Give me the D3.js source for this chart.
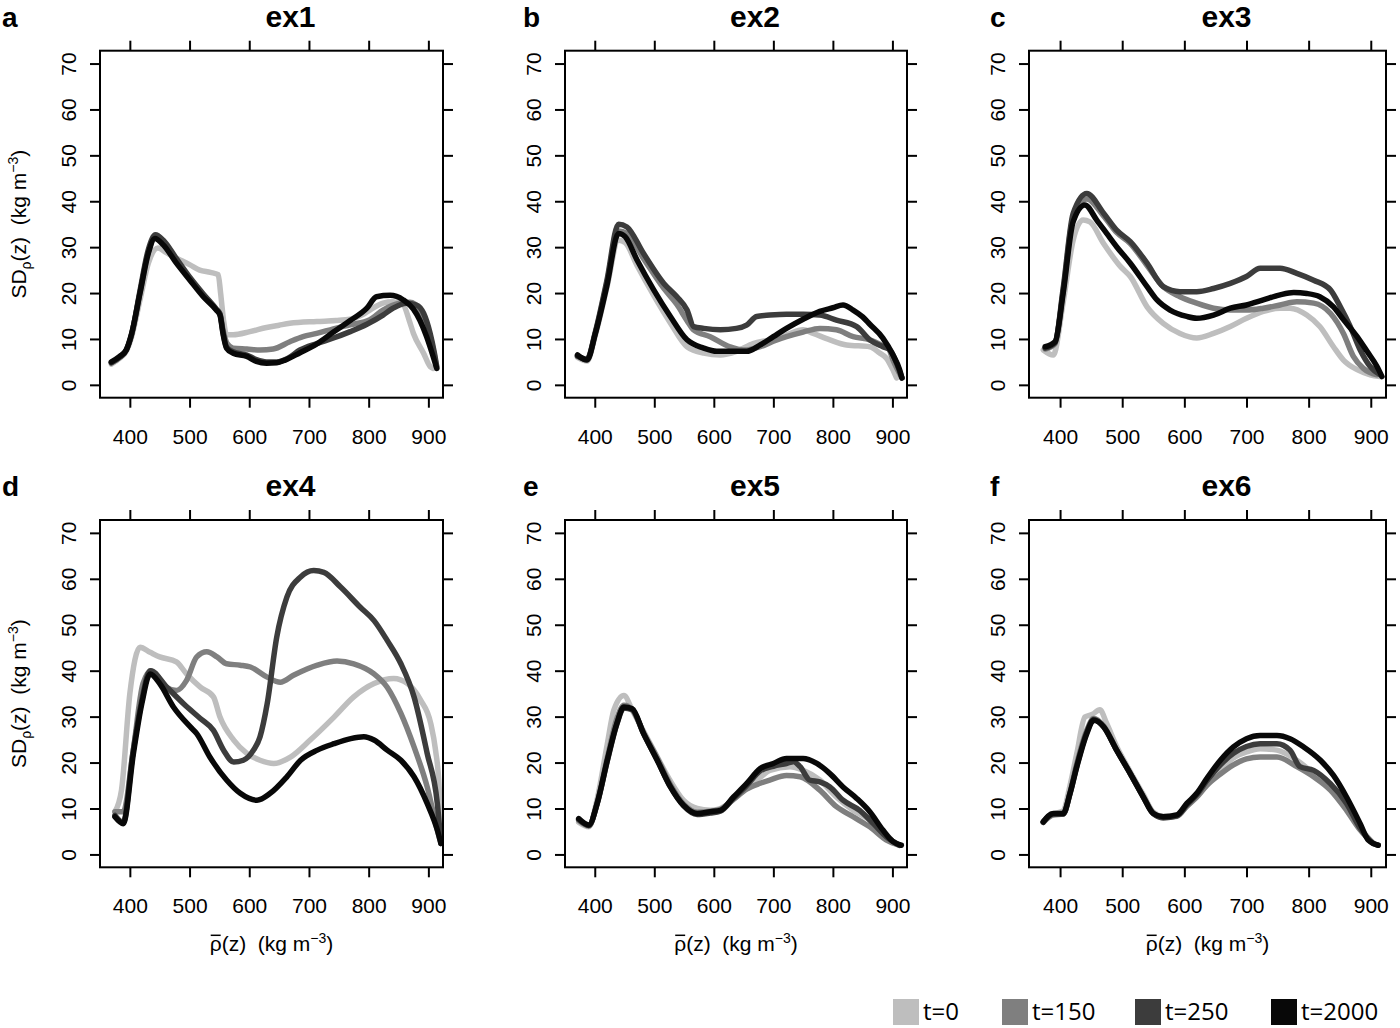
<!DOCTYPE html>
<html>
<head>
<meta charset="utf-8">
<script src="https://cdn.jsdelivr.net/npm/d3@7"></script>
<style>
body{margin:0;background:#fff;}
text{font-family:"Liberation Sans",Arial,Helvetica,sans-serif;fill:#000;}
</style>
</head>
<body>
<div id="chart"></div>
<script>

// Data: [mean density, SD]

var series = ["t=0","t=150","t=250","t=2000"];
var colors = ["#bebebe","#7f7f7f","#3c3c3c","#080808"];
var xTicks = [400,500,600,700,800,900];
var yTicks = [0,10,20,30,40,50,60,70];
var panelNames = ["ex1","ex2","ex3","ex4","ex5","ex6"];
var panelLetters = ["a","b","c","d","e","f"];

var ex1_t0 = [[369,4.5],[383,5.8],[394,7.3],[403,10.5],[417,18.5],[431,26.5],[447,29.8],[461,28.8],[472,28],[484,27.2],[500,26.2],[517,25],[535,24.5],[548,24],[552,20],[557,14],[562,10.9],[573,10.9],[601,11.6],[629,12.5],[650,13],[668,13.4],[713,13.8],[745,14],[769,14.3],[790,15.3],[802,16.3],[824,17.8],[841,18.1],[858,17.4],[868,14],[875,11.2],[892,6.9],[903,4],[908,3.6]];
var ex1_t150 = [[369,4.8],[383,6],[394,7.6],[403,11],[417,20],[431,29],[443,32.2],[456,31],[478,27],[500,23.2],[523,19.5],[545,16.3],[551,15.3],[556,12],[563,9],[573,8],[596,7.8],[618,7.6],[640,7.8],[668,9.4],[690,10.5],[713,11.2],[741,12.2],[769,13.1],[802,14.2],[824,16.3],[852,17.8],[869,18],[886,16.3],[897,13],[903,10.5],[910,6.5],[914,3.6]];
var ex1_t250 = [[369,4.8],[383,6],[394,7.6],[403,11],[417,20.5],[431,29.5],[443,32.7],[456,31.5],[478,27.5],[500,23.5],[523,19.8],[545,16.5],[551,15.5],[556,11.5],[562,8.2],[573,7.2],[596,6.5],[612,5.5],[629,5],[646,5],[665,5.8],[685,7.6],[713,9],[741,10.2],[769,11.6],[797,13.2],[824,15.2],[841,16.7],[863,17.8],[880,17.4],[892,15.6],[903,11.2],[910,7],[914,4]];
var ex1_t2000 = [[369,5],[383,6.2],[394,7.6],[403,11.2],[417,20],[431,28.7],[442,31.9],[456,30.5],[478,26.5],[500,22.9],[523,19.2],[545,16.3],[551,15.2],[556,11.2],[562,8],[573,6.9],[596,6.2],[612,5.1],[629,4.7],[646,4.8],[660,5.4],[685,7],[713,8.9],[741,11.5],[769,14],[797,16.7],[813,19.2],[836,19.5],[858,18.5],[875,16.5],[886,14],[897,10.5],[906,7],[914,3.6]];

var ex2_t0 = [[371,6],[387,5.2],[401,10.8],[420,21],[440,31.5],[451,31],[471,26],[499,19.5],[527,13.5],[555,8.3],[583,6.9],[611,6.5],[638,7.3],[666,9],[694,9.8],[722,10.9],[750,12],[767,11.2],[795,9.8],[823,8.7],[862,8.3],[878,7],[890,5.8],[900,3.5],[907,1.5]];
var ex2_t150 = [[371,6.2],[387,5.5],[401,11.3],[420,22],[440,33.5],[454,33],[482,27.5],[516,21],[538,17.5],[555,14],[566,12],[594,10.5],[627,8.3],[650,7.6],[678,8.3],[700,9.5],[722,10.5],[750,11.5],[778,12.3],[806,12],[834,10.5],[862,9.8],[884,8.5],[894,7.8],[901,5.4],[916,1.5]];
var ex2_t250 = [[371,6.3],[387,5.6],[401,11.5],[420,22.5],[440,35],[454,34.4],[482,28.6],[516,22.1],[538,19.2],[555,16.3],[566,12.7],[583,12.3],[611,12],[638,12.3],[655,13],[672,14.9],[694,15.2],[722,15.4],[750,15.4],[778,15.2],[806,14.1],[840,12.7],[862,9.8],[884,8.3],[896,7.6],[907,4.7],[916,1.5]];
var ex2_t2000 = [[371,6.5],[387,5.4],[401,11.2],[420,21.4],[440,33],[451,32.3],[471,27.2],[499,20.7],[527,14.9],[555,9.8],[583,8],[605,7.3],[638,7.3],[655,7.3],[678,8.7],[700,10.5],[722,12.3],[750,14.3],[778,16],[800,16.8],[817,17.4],[834,16.3],[850,14.8],[862,13.2],[884,10.2],[901,6.5],[912,3.3],[916,1.5]];

var ex3_t0 = [[373,7.6],[389,6.5],[405,18],[421,31.5],[437,35.9],[448,35.5],[470,30.8],[497,25.8],[513,23.6],[540,17],[566,13.4],[593,11.2],[620,10.2],[647,11.2],[674,12.7],[700,14.5],[727,16],[754,16.7],[770,16.7],[797,15.2],[818,12.7],[840,8.3],[856,5.4],[878,3.3],[899,2.2],[915,1.8]];
var ex3_t150 = [[376,7.8],[392,9],[405,20.5],[421,36.5],[443,40.5],[470,36.8],[491,33.2],[513,30.8],[540,26],[566,21.4],[593,19.2],[620,17.8],[647,16.7],[674,16.3],[700,16.3],[727,16.7],[754,17.4],[781,18.1],[808,17.8],[835,15.6],[856,11.2],[872,6.2],[888,3.6],[910,2.2]];
var ex3_t250 = [[376,8],[392,9.2],[405,21],[421,37.3],[443,41.7],[470,37.4],[491,33.7],[513,31.2],[540,26.5],[566,21.4],[593,20.3],[620,20.3],[647,21],[674,22.1],[700,23.6],[722,25.4],[754,25.4],[781,24.3],[808,22.8],[835,20.7],[851,17],[867,12.7],[883,7.6],[899,4],[915,2.2]];
var ex3_t2000 = [[376,8.3],[392,9.4],[405,20],[421,35.5],[440,39.2],[459,35.9],[475,33],[491,30.1],[513,26.5],[540,21.4],[556,18.5],[577,16.3],[604,14.9],[620,14.5],[647,15.2],[674,16.7],[700,17.4],[727,18.5],[754,19.6],[776,20.1],[797,19.9],[818,19.2],[840,17],[856,14.2],[878,10.5],[894,7.3],[910,4],[918,1.8]];

var ex4_t0 = [[375,9.3],[386,14],[400,35],[417,45.1],[434,44],[450,43],[478,41.9],[495,39.3],[518,36.4],[540,34.3],[551,29.9],[574,24.9],[596,22],[618,20.5],[641,19.8],[669,21.2],[702,24.9],[742,29.9],[775,34.3],[809,37.2],[842,38.3],[865,37.2],[887,33.6],[904,28.5],[912,22.7],[918,14.7],[921,2.4]];
var ex4_t150 = [[375,9.3],[389,9.3],[405,22],[422,37.2],[436,40],[461,36.4],[478,35.7],[495,37.9],[512,43],[529,44.1],[546,43],[562,41.5],[585,41.2],[602,40.8],[630,38.6],[652,37.5],[674,39],[714,41.2],[747,42.1],[775,41.5],[809,39.3],[831,36.4],[854,30.7],[876,23.4],[898,14.7],[915,5.3],[921,2.4]];
var ex4_t250 = [[375,8.5],[389,7],[405,22],[420,33.5],[434,40],[462,36.4],[490,32.8],[518,29.6],[540,27],[557,22.7],[574,20.1],[590,20.5],[607,22.7],[618,25.6],[630,32.8],[646,47.3],[663,56],[686,60.4],[708,61.8],[725,61.4],[753,58.2],[786,53.8],[809,50.9],[831,46.6],[854,41.5],[876,34.3],[898,22],[915,11.1],[921,2.4]];
var ex4_t2000 = [[375,8.2],[389,6.7],[406,22],[420,32.8],[434,39.3],[450,37.2],[473,32.1],[501,27.8],[512,26.3],[534,21.2],[562,16.2],[585,13.3],[613,11.8],[635,13.3],[663,16.9],[686,20.5],[714,22.7],[742,24.1],[770,25.2],[792,25.6],[809,24.9],[831,22.7],[854,20.5],[876,16.9],[898,11.1],[915,5.3],[921,2.4]];

var ex5_t0 = [[373,7],[390,6],[404,12],[421,24],[432,31.4],[449,34.6],[463,31.4],[482,26.8],[505,21.2],[527,16],[549,11.8],[572,10],[594,9.6],[611,10],[633,12],[655,14.5],[678,16.8],[694,18.3],[728,19.1],[750,18.3],[778,16.2],[806,12.5],[834,9.6],[862,7.5],[890,3.8],[912,2]];
var ex5_t150 = [[373,7.4],[390,6.2],[404,11.2],[421,21],[437,29.5],[449,32.5],[463,31.5],[482,26.5],[505,21],[527,15.2],[549,11],[572,9.2],[594,9.4],[611,9.8],[633,12],[655,14.2],[678,15.5],[694,16.2],[722,17.2],[745,16.9],[778,14],[806,10.4],[834,8.2],[862,6],[890,3.1],[912,2]];
var ex5_t250 = [[373,7.6],[390,6.3],[404,11],[421,20.3],[437,28.3],[449,31.9],[463,31.5],[482,26.3],[505,20.5],[527,14.8],[549,10.6],[572,8.7],[594,9],[611,9.4],[633,12.2],[655,15],[678,18.2],[700,19.2],[722,19.8],[734,20.2],[745,19.1],[761,16.2],[778,15.8],[795,14.7],[817,11.8],[845,9.6],[868,6.7],[890,3.8],[912,2]];
var ex5_t2000 = [[373,7.8],[390,6.4],[404,11.1],[421,20.5],[437,28.5],[449,32.1],[463,31.7],[482,26.3],[505,20.5],[527,14.7],[549,10.7],[572,8.9],[594,9.3],[611,9.6],[633,12.5],[655,15.4],[678,18.7],[700,19.8],[722,20.9],[750,20.9],[773,19.8],[795,17.6],[817,14.7],[840,12.2],[862,9.3],[884,5.3],[901,2.8],[915,2]];

var ex6_t0 = [[373,7.2],[389,8.8],[405,9.5],[416,15],[427,22],[440,29.9],[452,30.5],[464,31.5],[475,28.5],[491,23.5],[513,18],[534,13],[550,9.2],[566,8.3],[588,8.6],[604,10.5],[620,12.8],[636,15.5],[658,18.5],[679,21],[700,22.3],[722,23],[749,22.7],[781,20.5],[808,17.6],[835,14.2],[861,10.2],[883,5.8],[904,2.4]];
var ex6_t150 = [[373,7],[389,8.6],[405,8.8],[416,13.5],[427,19.8],[443,27],[454,29.6],[470,28],[491,22.8],[513,17.6],[534,12.6],[550,9],[566,8],[588,8.3],[604,10.5],[620,12.5],[636,15],[658,17.5],[679,19.5],[700,20.8],[722,21.2],[749,21.2],[781,19.1],[808,16.9],[835,14],[861,9.6],[883,5.3],[904,2.4]];
var ex6_t250 = [[373,7],[389,8.8],[405,8.8],[416,13.2],[427,19.3],[443,26.6],[454,29.4],[470,27.8],[491,22.7],[513,17.6],[534,12.5],[550,8.9],[566,8],[588,8.4],[604,10.8],[620,13],[636,16],[658,19.5],[679,22],[700,23.5],[722,24.1],[749,24.1],[770,22.7],[786,19.1],[808,18.3],[835,15.4],[861,11.1],[883,5.7],[904,2.4],[912,2]];
var ex6_t2000 = [[373,7.1],[389,8.9],[405,8.9],[416,13.3],[427,19.1],[443,26.3],[454,29.2],[470,27.8],[491,22.7],[513,17.6],[534,12.5],[550,8.9],[566,8.2],[588,8.6],[604,11.1],[620,13.3],[636,16.5],[658,20.5],[679,23.4],[700,25.2],[722,25.9],[749,25.9],[770,25.2],[792,23.4],[819,20.5],[840,17.2],[861,12.5],[883,6.7],[896,3.1],[912,2]];

var panelData = [
	[ex1_t0,ex1_t150,ex1_t250,ex1_t2000],
	[ex2_t0,ex2_t150,ex2_t250,ex2_t2000],
	[ex3_t0,ex3_t150,ex3_t250,ex3_t2000],
	[ex4_t0,ex4_t150,ex4_t250,ex4_t2000],
	[ex5_t0,ex5_t150,ex5_t250,ex5_t2000],
	[ex6_t0,ex6_t150,ex6_t250,ex6_t2000]
];

// Layout

var W = 1400, H = 1028;
var colX = [[100,443],[565,907],[1029,1386]];
var rowY = [[50.7,397.7],[520,867.3]];
var letterX = [2,523,990];
var xDom = [350,924.5], yDom = [-2.8,72.8];
var legX = [893,1002,1135,1271];
var sp2 = "\u00a0\u00a0";

var svg = d3.select("#chart").append("svg")
	.attr("width",W).attr("height",H);

svg.append("rect").attr("width",W).attr("height",H).attr("fill","#fff");

panelData.forEach(function(pd,i){
	var c = i % 3, r = Math.floor(i/3);
	var x0 = colX[c][0], x1 = colX[c][1], y0 = rowY[r][0], y1 = rowY[r][1];

	var x = d3.scaleLinear().domain(xDom).range([x0,x1]);
	var y = d3.scaleLinear().domain(yDom).range([y1,y0]);

	var g = svg.append("g");

	// curves
	var line = d3.line().x(function(d){return x(d[0])}).y(function(d){return y(d[1])})
		.curve(d3.curveMonotoneX);

	g.selectAll(".curve").data(pd).enter().append("path")
		.attr("class","curve")
		.attr("d",line)
		.style("fill","none")
		.style("stroke",function(d,k){return colors[k]})
		.style("stroke-width",5.5)
		.style("stroke-linejoin","round")
		.style("stroke-linecap","round");

	// axes
	var ax = g.append("g").attr("transform","translate(0,"+y1+")")
		.call(d3.axisBottom(x).tickValues(xTicks).tickSize(10).tickFormat(d3.format("d")));
	ax.selectAll("text").attr("y",46).attr("dy",null).style("font-size","21px");

	g.append("g").attr("transform","translate(0,"+y0+")")
		.call(d3.axisTop(x).tickValues(xTicks).tickSize(10).tickFormat(""));

	g.append("g").attr("transform","translate("+x1+",0)")
		.call(d3.axisRight(y).tickValues(yTicks).tickSize(10).tickFormat(""));

	var ay = g.append("g").attr("transform","translate("+x0+",0)")
		.call(d3.axisLeft(y).tickValues(yTicks).tickSize(10));
	ay.selectAll("text")
		.attr("x",0).attr("dy","0.36em")
		.attr("text-anchor","middle")
		.attr("transform","translate(-32,0)rotate(-90)")
		.style("font-size","21px");

	g.selectAll(".domain").remove();
	g.selectAll(".tick line").attr("stroke","#000").attr("stroke-width",2);

	g.append("rect").attr("x",x0).attr("y",y0).attr("width",x1-x0).attr("height",y1-y0)
		.style("fill","none").style("stroke","#000").style("stroke-width",2);

	// title and letter
	g.append("text").attr("x",(x0+x1)/2+19).attr("y",y0-24)
		.attr("text-anchor","middle")
		.style("font-size","30px").style("font-weight","bold")
		.text(panelNames[i]);

	g.append("text").attr("x",letterX[c]).attr("y",y0-24)
		.style("font-size","28px").style("font-weight","bold")
		.text(panelLetters[i]);

	// y label on first column
	if (c == 0) {
		var yl = g.append("text")
			.attr("transform","translate(18,"+((y0+y1)/2)+")rotate(-90)")
			.attr("text-anchor","middle").attr("dy","0.36em")
			.style("font-size","21px");
		yl.append("tspan").text("SD");
		yl.append("tspan").text("ρ").attr("dy",5).style("font-size","14px");
		yl.append("tspan").text("(z)"+sp2+"(kg m").attr("dy",-5);
		yl.append("tspan").text("−3").attr("dy",-8).style("font-size","14px");
		yl.append("tspan").text(")").attr("dy",8);
	}

	// x label on bottom row
	if (r == 1) {
		var xl = g.append("text")
			.attr("x",(x0+x1)/2).attr("y",y1+84)
			.attr("text-anchor","middle")
			.style("font-size","21px");
		xl.append("tspan").text("ρ(z)"+sp2+"(kg m");
		xl.append("tspan").text("−3").attr("dy",-8).style("font-size","14px");
		xl.append("tspan").text(")").attr("dy",8);
		var ext = xl.node().getExtentOfChar(0);
		g.append("line")
			.attr("x1",ext.x+1).attr("x2",ext.x+ext.width-1)
			.attr("y1",y1+84-16).attr("y2",y1+84-16)
			.style("stroke","#000").style("stroke-width",1.5);
	}
});

// Legend

var leg = svg.selectAll(".leg").data(series).enter().append("g")
	.attr("class","leg")
	.attr("transform",function(d,k){return "translate("+legX[k]+",999)"});

leg.append("rect").attr("width",26).attr("height",26)
	.style("fill",function(d,k){return colors[k]});

leg.append("text").attr("x",30).attr("y",21)
	.style("font-family","'Open Sans',sans-serif").style("font-size","24px")
	.text(function(d){return d});

</script>
</body>
</html>
